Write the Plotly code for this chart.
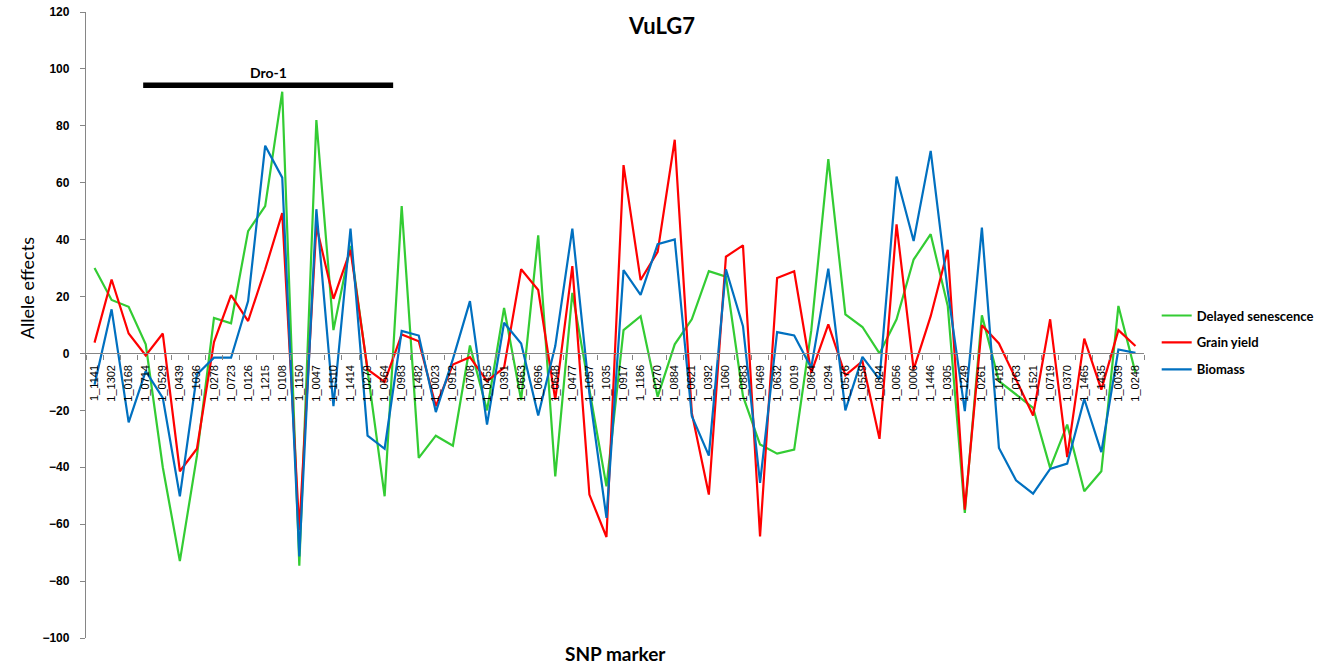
import plotly.graph_objects as go

markers = ["1_1141","1_1302","1_0168","1_0714","1_0529","1_0439","1_1036","1_0278","1_0723","1_0126",
           "1_1215","1_0108","1_1150","1_0047","1_1510","1_1414","1_0279","1_0564","1_0983","1_1482",
           "1_0023","1_0912","1_0708","1_0455","1_0391","1_0663","1_0696","1_0648","1_0477","1_1057",
           "1_1035","1_0917","1_1186","1_0270","1_0884","1_0621","1_0392","1_1060","1_0883","1_0469",
           "1_0632","1_0019","1_0864","1_0294","1_0576","1_0559","1_0824","1_0056","1_0006","1_1446",
           "1_0305","1_1249","1_0261","1_1418","1_0763","1_1521","1_0719","1_0370","1_1465","1_1435",
           "1_0039","1_0248"]

delayed_senescence = [30, 18.8, 16.4, 3.2, -40, -73, -36, 12.5, 10.6, 43,
                      51.8, 92, -74.6, 82, 8.2, 37.8, -6, -50.2, 51.8, -36.7,
                      -28.9, -32.4, 2.8, -20, 16, -16.4, 41.5, -43.2, 21.3, -12,
                      -46.7, 8.2, 13.1, -15.2, 3.2, 12, 28.9, 27, -15, -32,
                      -35.2, -33.8, 8, 68.3, 13.7, 9.3, 0, 12, 33, 41.9,
                      16.7, -56, 13.4, -9.7, -14.4, -19.1, -40.2, -25, -48.4, -41.4,
                      16.7, -6.8]

grain_yield = [3.8, 26, 7, -0.7, 7, -41.4, -33.5, 4, 20.5, 11.4,
               29.6, 49.3, -62, 44.8, 19.2, 36.4, -5.6, -10, 6.7, 4.3,
               -18.5, -3.9, -1.3, -9.7, -5, 29.6, 22.3, -16.2, 30.7, -49.6,
               -64.5, 66.2, 25.8, 35.7, 75.1, -20.9, -49.6, 34, 38, -64.3,
               26.5, 28.9, -6.8, 10.2, -7.7, -2.7, -30, 45.4, -5.6, 13.1,
               36.4, -54.9, 9.9, 3.5, -9.1, -21.8, 12, -36.4, 5.2, -12.7,
               8.2, 2.6]

biomass = [-11, 15.5, -24.2, -6.2, -15.6, -50.2, -7.4, -1.5, -1.5, 18.4,
           73, 61.8, -71.3, 50.7, -18.5, 43.9, -28.9, -33.5, 7.9, 6.3,
           -20.6, -2, 18.4, -25, 10.8, 3.5, -21.8, 2.6, 43.9, -14,
           -57.8, 29.3, 20.6, 38.4, 40.1, -22, -35.9, 29.6, 9.6, -45.5,
           7.5, 6.3, -5, 29.8, -20, -1.2, -9.1, 62.2, 39.5, 71.2,
           22, -20.3, 44.2, -33.2, -44.6, -49.3, -40.6, -38.7, -16, -34.7,
           1.4, 0.2]

series_names = ["Delayed senescence", "Grain yield", "Biomass"]
series_values = [delayed_senescence, grain_yield, biomass]
series_colors = ["#33CC33", "#FF0000", "#0070C0"]

# QTL region annotation (category index span) and label
dro_label = "Dro-1"
dro_start = 2.85
dro_end = 17.5
dro_level = 94.3

Y_MIN, Y_MAX = -100, 120
AX_GRAY = "#868686"
TXT_FONT = "Lato"

fig = go.Figure()
for name, vals, col in zip(series_names, series_values, series_colors):
    fig.add_trace(go.Scatter(x=markers, y=vals, mode="lines", name=name,
                             legendgroup=name,
                             line=dict(color=col, width=2.2)))

fig.add_shape(type="line", xref="x", yref="y", x0=dro_start, x1=dro_end,
              y0=dro_level, y1=dro_level, line=dict(color="black", width=5.5))
fig.add_annotation(xref="x", yref="y", x=(dro_start + dro_end) / 2, y=dro_level,
                   text=dro_label, showarrow=False, yanchor="bottom", yshift=2,
                   font=dict(family=TXT_FONT, size=14, color="black", weight="bold"))

fig.add_annotation(xref="paper", yref="paper", x=0.544, y=0.978, text="VuLG7",
                   showarrow=False, xanchor="center", yanchor="middle",
                   font=dict(family=TXT_FONT, size=22, color="black", weight="bold"))
fig.add_annotation(xref="paper", yref="paper", x=0.5, y=-0.024, text="SNP marker",
                   showarrow=False, xanchor="center", yanchor="middle", borderpad=0,
                   font=dict(family=TXT_FONT, size=19, color="black", weight="bold"))
fig.add_annotation(xref="paper", yref="paper", x=-0.0558, y=0.559, text="Allele effects",
                   showarrow=False, xanchor="center", yanchor="middle", textangle=-90,
                   font=dict(family=TXT_FONT, size=18, color="black"))

fig.update_layout(
    width=1330, height=666,
    margin=dict(l=86, r=186, t=12, b=28, autoexpand=False),
    paper_bgcolor="white", plot_bgcolor="white",
    showlegend=True,
    legend=dict(x=1.012, y=0.472, xanchor="left", yanchor="middle",
                font=dict(family=TXT_FONT, size=13, color="black", weight="bold"),
                tracegroupgap=7, bgcolor="rgba(0,0,0,0)"),
    xaxis=dict(type="category", categoryorder="array", categoryarray=markers,
               range=[-0.5, len(markers) - 0.5],
               anchor="free", position=(0 - Y_MIN) / (Y_MAX - Y_MIN),
               showline=True, linecolor=AX_GRAY, linewidth=1.3,
               ticks="outside", tickson="boundaries", ticklen=5, tickcolor=AX_GRAY,
               tickangle=-90, ticklabelstandoff=6,
               tickfont=dict(family="Liberation Sans", size=11, color="black"),
               showgrid=False, zeroline=False),
    yaxis=dict(range=[Y_MIN, Y_MAX], dtick=20, tick0=0,
               showline=True, linecolor=AX_GRAY, linewidth=1.3,
               ticks="outside", ticklen=5, tickcolor=AX_GRAY, ticklabelstandoff=8,
               tickfont=dict(family="Liberation Sans", size=12, color="black", weight="bold"),
               showgrid=False, zeroline=False),
)

fig.write_html("out.html", config={"displayModeBar": False},
               post_script="document.body.style.margin='0';document.body.style.overflow='hidden';")
